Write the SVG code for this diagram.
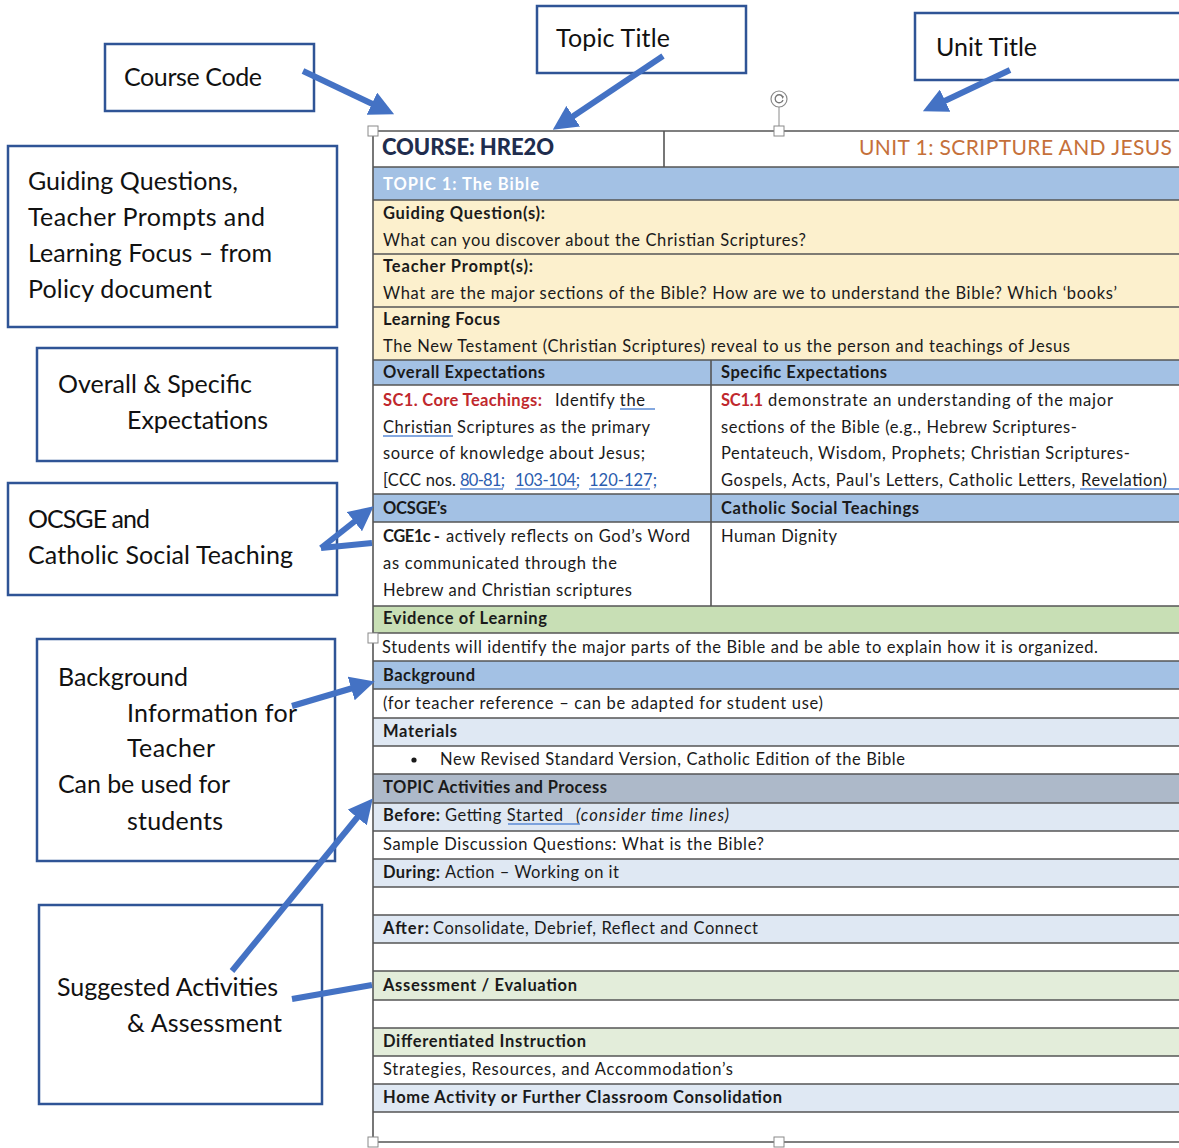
<svg xmlns="http://www.w3.org/2000/svg" width="1179" height="1148" viewBox="0 0 1179 1148">
<style>
text{font-family:Lato,"Open Sans","Liberation Sans",sans-serif;fill:#1a1a1a}
.lbl{font-size:25px;fill:#111}
.t{font-size:16.5px}
.b{font-size:16.5px;font-weight:bold}
.box{fill:#fff;stroke:#2f5496;stroke-width:2.5}
.rl{stroke:#555;stroke-width:1.6}
.ul{stroke:#5b8bd6;stroke-width:1.5}
.arr{stroke:#4472c4;stroke-width:6;fill:none}
.red{fill:#c0282d;font-weight:bold}
.lnk{fill:#2b5cae}
.hd{fill:#fff;stroke:#8a8a8a;stroke-width:1}
</style>
<defs>
<marker id="ah" viewBox="0 0 10 10" refX="5" refY="5" markerWidth="4.1" markerHeight="4.1" orient="auto" markerUnits="strokeWidth">
<path d="M0,0 L10,5 L0,10 z" fill="#4472c4"/>
</marker>
</defs>
<rect width="1179" height="1148" fill="#fff"/>

<g id="table">
<rect x="373" y="131" width="806" height="36" fill="#fff"/>
<rect x="373" y="167" width="806" height="33" fill="#a3c1e4"/>
<rect x="373" y="200" width="806" height="160" fill="#fcf0cd"/>
<rect x="373" y="360" width="806" height="25" fill="#a3c1e4"/>
<rect x="373" y="494" width="806" height="28" fill="#a3c1e4"/>
<rect x="373" y="606" width="806" height="27" fill="#c8dfb5"/>
<rect x="373" y="661" width="806" height="28" fill="#a3c1e4"/>
<rect x="373" y="718" width="806" height="28" fill="#dfe8f3"/>
<rect x="373" y="774" width="806" height="29" fill="#adb9c9"/>
<rect x="373" y="803" width="806" height="28" fill="#dfe8f3"/>
<rect x="373" y="859" width="806" height="28" fill="#dfe8f3"/>
<rect x="373" y="915" width="806" height="28" fill="#dfe8f3"/>
<rect x="373" y="971" width="806" height="29" fill="#e3edda"/>
<rect x="373" y="1028" width="806" height="28" fill="#e3edda"/>
<rect x="373" y="1084" width="806" height="28" fill="#dfe8f3"/>
<line class="rl" x1="373" y1="131" x2="1179" y2="131" stroke="#999"/>
<line class="rl" x1="373" y1="167" x2="1179" y2="167"/>
<line class="rl" x1="373" y1="200" x2="1179" y2="200"/>
<line class="rl" x1="373" y1="254" x2="1179" y2="254"/>
<line class="rl" x1="373" y1="307" x2="1179" y2="307"/>
<line class="rl" x1="373" y1="360" x2="1179" y2="360"/>
<line class="rl" x1="373" y1="385" x2="1179" y2="385"/>
<line class="rl" x1="373" y1="494" x2="1179" y2="494"/>
<line class="rl" x1="373" y1="522" x2="1179" y2="522"/>
<line class="rl" x1="373" y1="606" x2="1179" y2="606"/>
<line class="rl" x1="373" y1="633" x2="1179" y2="633"/>
<line class="rl" x1="373" y1="661" x2="1179" y2="661"/>
<line class="rl" x1="373" y1="689" x2="1179" y2="689"/>
<line class="rl" x1="373" y1="718" x2="1179" y2="718"/>
<line class="rl" x1="373" y1="746" x2="1179" y2="746"/>
<line class="rl" x1="373" y1="774" x2="1179" y2="774"/>
<line class="rl" x1="373" y1="803" x2="1179" y2="803"/>
<line class="rl" x1="373" y1="831" x2="1179" y2="831"/>
<line class="rl" x1="373" y1="859" x2="1179" y2="859"/>
<line class="rl" x1="373" y1="887" x2="1179" y2="887"/>
<line class="rl" x1="373" y1="915" x2="1179" y2="915"/>
<line class="rl" x1="373" y1="943" x2="1179" y2="943"/>
<line class="rl" x1="373" y1="971" x2="1179" y2="971"/>
<line class="rl" x1="373" y1="1000" x2="1179" y2="1000"/>
<line class="rl" x1="373" y1="1028" x2="1179" y2="1028"/>
<line class="rl" x1="373" y1="1056" x2="1179" y2="1056"/>
<line class="rl" x1="373" y1="1084" x2="1179" y2="1084"/>
<line class="rl" x1="373" y1="1112" x2="1179" y2="1112"/>
<line class="rl" x1="373" y1="1142" x2="1179" y2="1142" stroke-width="2"/>
<line class="rl" x1="373" y1="131" x2="373" y2="1142" stroke="#999"/>
<line class="rl" x1="664" y1="131" x2="664" y2="167"/>
<line class="rl" x1="711" y1="360" x2="711" y2="606"/>

<text x="382" y="155" style="font-size:22px;font-weight:900;fill:#1f2d4e" textLength="172">COURSE: HRE2O</text>
<text x="859" y="155" style="font-size:21px;fill:#c5703a" textLength="313">UNIT 1: SCRIPTURE AND JESUS</text>
<text x="383" y="190" class="b" style="fill:#fff" textLength="156">TOPIC 1: The Bible</text>
<text x="383" y="219" class="b" textLength="162">Guiding Question(s):</text>
<text x="383" y="246" class="t" textLength="423">What can you discover about the Christian Scriptures?</text>
<text x="383" y="272" class="b" textLength="150">Teacher Prompt(s):</text>
<text x="383" y="299" class="t" textLength="734">What are the major sections of the Bible? How are we to understand the Bible? Which ‘books’</text>
<text x="383" y="325" class="b" textLength="117">Learning Focus</text>
<text x="383" y="352" class="t" textLength="687">The New Testament (Christian Scriptures) reveal to us the person and teachings of Jesus</text>
<text x="383" y="378" class="b" textLength="162">Overall Expectations</text>
<text x="721" y="378" class="b" textLength="166">Specific Expectations</text>

<text x="383" y="406" class="t red" textLength="159">SC1. Core Teachings:</text>
<text x="555" y="406" class="t" textLength="90">Identify the</text>
<line class="ul" x1="620" y1="409" x2="655" y2="409"/>
<text x="383" y="433" class="t" textLength="267">Christian Scriptures as the primary</text>
<line class="ul" x1="383" y1="436" x2="453" y2="436"/>
<text x="383" y="459" class="t" textLength="262">source of knowledge about Jesus;</text>
<text x="383" y="486" class="t" textLength="73">[CCC nos.</text>
<text x="460" y="486" class="t lnk" textLength="45">80-81;</text>
<text x="515" y="486" class="t lnk" textLength="65">103-104;</text>
<text x="589" y="486" class="t lnk" textLength="68">120-127;</text>
<line class="ul" x1="460" y1="489" x2="503" y2="489"/>
<line class="ul" x1="515" y1="489" x2="577" y2="489"/>
<line class="ul" x1="589" y1="489" x2="650" y2="489"/>

<text x="721" y="406" class="t red" textLength="42">SC1.1</text>
<text x="768" y="406" class="t" textLength="345">demonstrate an understanding of the major</text>
<text x="721" y="433" class="t" textLength="356">sections of the Bible (e.g., Hebrew Scriptures-</text>
<text x="721" y="459" class="t" textLength="409">Pentateuch, Wisdom, Prophets; Christian Scriptures-</text>
<text x="721" y="486" class="t" textLength="446">Gospels, Acts, Paul's Letters, Catholic Letters, Revelation)</text>
<line class="ul" x1="1080" y1="489" x2="1179" y2="489"/>

<text x="383" y="514" class="b" textLength="64">OCSGE’s</text>
<text x="721" y="514" class="b" textLength="198">Catholic Social Teachings</text>
<text x="383" y="542" class="b" textLength="57">CGE1c -</text>
<text x="446" y="542" class="t" textLength="244">actively reflects on God’s Word</text>
<text x="383" y="569" class="t" textLength="234">as communicated through the</text>
<text x="383" y="596" class="t" textLength="249">Hebrew and Christian scriptures</text>
<text x="721" y="542" class="t" textLength="116">Human Dignity</text>

<text x="383" y="624" class="b" textLength="164">Evidence of Learning</text>
<text x="382" y="653" class="t" textLength="716">Students will identify the major parts of the Bible and be able to explain how it is organized.</text>
<text x="383" y="681" class="b" textLength="92">Background</text>
<text x="383" y="709" class="t" textLength="440">(for teacher reference – can be adapted for student use)</text>
<text x="383" y="737" class="b" textLength="74">Materials</text>
<circle cx="414" cy="760" r="2.6" fill="#1a1a1a"/>
<text x="440" y="765" class="t" textLength="465">New Revised Standard Version, Catholic Edition of the Bible</text>
<text x="383" y="793" class="b" textLength="224">TOPIC Activities and Process</text>
<text x="383" y="821" class="b" textLength="57">Before:</text>
<text x="445" y="821" class="t" textLength="118">Getting Started</text>
<line class="ul" x1="508" y1="824" x2="580" y2="824"/>
<text x="576" y="821" class="t" style="font-style:italic" textLength="153">(consider time lines)</text>
<text x="383" y="850" class="t" textLength="381">Sample Discussion Questions:  What is the Bible?</text>
<text x="383" y="878" class="b" textLength="57">During:</text>
<text x="445" y="878" class="t" textLength="174">Action – Working on it</text>
<text x="383" y="934" class="b" textLength="46">After:</text>
<text x="433" y="934" class="t" textLength="325">Consolidate, Debrief, Reflect and Connect</text>
<text x="383" y="991" class="b" textLength="194">Assessment / Evaluation</text>
<text x="383" y="1047" class="b" textLength="203">Differentiated Instruction</text>
<text x="383" y="1075" class="t" textLength="350">Strategies, Resources, and Accommodation’s</text>
<text x="383" y="1103" class="b" textLength="399">Home Activity or Further Classroom Consolidation</text>

<rect class="hd" x="368" y="126" width="10" height="10"/>
<line x1="779" y1="107" x2="779" y2="126" stroke="#8a8a8a" stroke-width="1"/>
<rect class="hd" x="774" y="126" width="10" height="10"/>
<circle cx="779" cy="99" r="8" fill="#fff" stroke="#8a8a8a" stroke-width="1.2"/>
<path d="M782.5,96.5 A4,4 0 1 0 783,100" fill="none" stroke="#777" stroke-width="1.3"/>
<path d="M781,95 L784,96.5 L782.5,99 z" fill="#777"/>
<rect class="hd" x="368" y="633" width="10" height="10"/>
<rect class="hd" x="368" y="1137" width="10" height="10"/>
<rect class="hd" x="774" y="1137" width="10" height="10"/>
</g>

<g id="course-code">
<rect class="box" x="105" y="44" width="209" height="67"/>
<text class="lbl" x="124" y="86" textLength="138">Course Code</text>
</g>
<g id="topic-title">
<rect class="box" x="537" y="6" width="209" height="67"/>
<text class="lbl" x="556" y="47" textLength="114">Topic Title</text>
</g>
<g id="unit-title">
<rect class="box" x="915" y="13" width="280" height="67"/>
<text class="lbl" x="936" y="56" textLength="101">Unit Title</text>
</g>
<g id="guiding">
<rect class="box" x="8" y="146" width="329" height="181"/>
<text class="lbl" x="28" y="190" textLength="210">Guiding Questions,</text>
<text class="lbl" x="28" y="226" textLength="237">Teacher Prompts and</text>
<text class="lbl" x="28" y="262" textLength="244">Learning Focus – from</text>
<text class="lbl" x="28" y="298" textLength="184">Policy document</text>
</g>
<g id="expectations">
<rect class="box" x="37" y="348" width="300" height="113"/>
<text class="lbl" x="58" y="393" textLength="194">Overall &amp; Specific</text>
<text class="lbl" x="127" y="429" textLength="141">Expectations</text>
</g>
<g id="ocsge">
<rect class="box" x="8" y="483" width="329" height="112"/>
<text class="lbl" x="28" y="528" textLength="122">OCSGE and</text>
<text class="lbl" x="28" y="564" textLength="265">Catholic Social Teaching</text>
</g>
<g id="background">
<rect class="box" x="37" y="639" width="298" height="222"/>
<text class="lbl" x="58" y="686" textLength="130">Background</text>
<text class="lbl" x="127" y="722" textLength="170">Information for</text>
<text class="lbl" x="127" y="757" textLength="88">Teacher</text>
<text class="lbl" x="58" y="793" textLength="172">Can be used for</text>
<text class="lbl" x="127" y="830" textLength="96">students</text>
</g>
<g id="suggested">
<rect class="box" x="39" y="905" width="283" height="199"/>
<text class="lbl" x="57" y="996" textLength="221">Suggested Activities</text>
<text class="lbl" x="127" y="1032" textLength="155">&amp; Assessment</text>
</g>

<g id="connectors">
<line class="arr" x1="303" y1="71" x2="383" y2="109" marker-end="url(#ah)"/>
<line class="arr" x1="663" y1="56" x2="563" y2="123" marker-end="url(#ah)"/>
<line class="arr" x1="1010" y1="70" x2="934" y2="106" marker-end="url(#ah)"/>
<polyline class="arr" points="372,543 321,548"/>
<line class="arr" x1="321" y1="548" x2="364" y2="514" marker-end="url(#ah)"/>
<line class="arr" x1="292" y1="706" x2="363" y2="685" marker-end="url(#ah)"/>
<line class="arr" x1="232" y1="971" x2="365" y2="808" marker-end="url(#ah)"/>
<line class="arr" x1="292" y1="999" x2="372" y2="985"/>
</g>
</svg>
